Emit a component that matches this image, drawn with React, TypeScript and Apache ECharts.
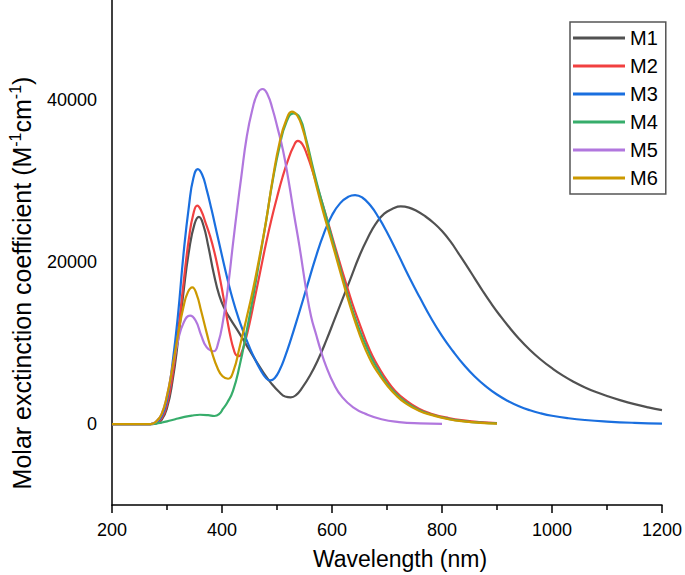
import React, { useEffect, useRef } from "react";
import * as echarts from "echarts";

const FONT = '"Liberation Sans", Arial, Helvetica, sans-serif';

const SERIES_NAMES = ["M1", "M2", "M3", "M4", "M5", "M6"];
const COLORS = ["#515151", "#F14040", "#1A6FDF", "#37AD6B", "#B177DE", "#CC9900"];

const X_TICKS = [200, 400, 600, 800, 1000, 1200];
const Y_TICK_LABELS = [0, 20000, 40000];

const M1_WL = [200, 270, 280, 290, 300, 310, 320, 330, 340, 350, 358, 366, 375, 385, 395, 405, 415, 430, 445, 460, 475, 490, 505, 515, 525, 535, 545, 560, 575, 590, 605, 620, 635, 650, 665, 680, 695, 710, 725, 740, 755, 770, 785, 800, 815, 830, 845, 860, 875, 890, 905, 920, 940, 960, 980, 1000, 1020, 1040, 1060, 1080, 1100, 1125, 1150, 1175, 1200];
const M1_VAL = [0, 0, 80, 500, 2000, 5300, 10300, 16300, 21400, 24700, 25600, 24600, 22000, 18600, 15900, 14200, 13000, 11400, 9700, 8000, 6400, 5000, 3900, 3400, 3300, 3600, 4400, 6000, 8000, 10400, 13000, 15600, 18200, 20800, 23000, 24800, 26000, 26600, 26900, 26750, 26300, 25650, 24850, 23850, 22600, 21100, 19550, 17950, 16350, 14850, 13450, 12150, 10550, 9150, 7950, 6900, 5980, 5200, 4530, 3960, 3470, 2930, 2460, 2060, 1720];

const M2_WL = [200, 270, 280, 290, 300, 310, 320, 330, 340, 348, 355, 362, 370, 378, 386, 394, 402, 410, 416, 421, 426, 431, 436, 442, 450, 460, 470, 480, 490, 500, 510, 520, 530, 538, 546, 555, 565, 577, 589, 601, 613, 625, 637, 649, 661, 673, 686, 700, 715, 734, 758, 782, 812, 843, 870, 900];
const M2_VAL = [0, 0, 120, 650, 2400, 6000, 11300, 17400, 23000, 26000, 27000, 26400, 24900, 23300, 21300, 18800, 15900, 12700, 10600, 9300, 8500, 8400, 8900, 10200, 12400, 15700, 19000, 22300, 25300, 28000, 30500, 32600, 34300, 35000, 34600, 33200, 31200, 28500, 25800, 23000, 20200, 17500, 14900, 12600, 10400, 8500, 6900, 5400, 4100, 2950, 1900, 1250, 750, 430, 250, 120];

const M3_WL = [200, 270, 280, 290, 300, 310, 320, 330, 340, 348, 356, 364, 372, 381, 390, 400, 410, 420, 430, 440, 450, 460, 470, 480, 488, 496, 505, 515, 525, 540, 555, 570, 585, 600, 615, 630, 642, 655, 670, 685, 700, 720, 740, 760, 780, 800, 820, 840, 860, 880, 900, 920, 940, 960, 980, 1000, 1030, 1060, 1100, 1150, 1200];
const M3_VAL = [0, 0, 200, 900, 3000, 7500, 13500, 21000, 27000, 30400, 31500, 30800, 29000, 26500, 23800, 20800, 17900, 15300, 13100, 11200, 9500, 8000, 6700, 5700, 5400, 5700, 6700, 8400, 10400, 13700, 17100, 20500, 23500, 25800, 27300, 28100, 28300, 28000, 27000, 25500, 23700, 21000, 18200, 15600, 13100, 10900, 9000, 7300, 5850, 4650, 3650, 2850, 2200, 1700, 1320, 1030, 720, 500, 310, 150, 50];

const M4_WL = [200, 270, 280, 290, 300, 315, 330, 345, 360, 375, 386, 395, 402, 410, 420, 432, 444, 456, 468, 480, 492, 505, 517, 530, 541, 553, 565, 577, 589, 601, 613, 625, 637, 649, 661, 673, 686, 700, 715, 734, 758, 782, 812, 843, 870, 900];
const M4_VAL = [0, 0, 60, 180, 330, 600, 850, 1050, 1150, 1100, 1000, 1250, 1900, 2700, 4100, 7200, 11200, 15500, 20200, 25000, 30000, 34400, 37300, 38400, 37900, 35200, 31800, 28600, 25700, 22700, 19700, 16800, 14100, 11800, 9800, 8000, 6500, 5000, 3850, 2700, 1750, 1150, 650, 340, 180, 80];

const M5_WL = [200, 270, 280, 290, 300, 310, 320, 330, 342, 352, 362, 372, 385, 393, 402, 411, 420, 428, 435, 445, 455, 465, 474, 483, 492, 501, 511, 521, 531, 541, 553, 562, 571, 580, 589, 603, 619, 640, 661, 690, 722, 760, 800];
const M5_VAL = [0, 0, 300, 1200, 3500, 7000, 10300, 12500, 13400, 12800, 11000, 9500, 9000, 10000, 12800, 17000, 22300, 26800, 30500, 35500, 38800, 40900, 41400, 40700, 38900, 36600, 33800, 30100, 25900, 21900, 16600, 13300, 11100, 9000, 7200, 5000, 3300, 2000, 1260, 600, 250, 80, 20];

const M6_WL = [200, 270, 280, 290, 300, 310, 320, 330, 338, 346, 354, 362, 372, 382, 392, 401, 411, 421, 432, 444, 456, 468, 480, 492, 505, 517, 527, 537, 547, 556, 565, 577, 589, 601, 613, 625, 637, 649, 661, 673, 686, 700, 715, 734, 758, 782, 812, 843, 870, 900];
const M6_VAL = [0, 0, 300, 1200, 3500, 7000, 11000, 14500, 16300, 16900, 16000, 14000, 11300, 8800, 6900, 5900, 5600, 6600, 9500, 12900, 16500, 20600, 25000, 30200, 34900, 37600, 38600, 38100, 36400, 34000, 31300, 28000, 25000, 22200, 19300, 16400, 13700, 11300, 9200, 7500, 6100, 4800, 3650, 2550, 1650, 1100, 600, 300, 150, 60];

const WLS = [M1_WL, M2_WL, M3_WL, M4_WL, M5_WL, M6_WL];
const VALS = [M1_VAL, M2_VAL, M3_VAL, M4_VAL, M5_VAL, M6_VAL];

export default function App() {
  const ref = useRef<HTMLDivElement>(null);

  useEffect(() => {
    if (!ref.current) return;
    const chart = echarts.init(ref.current, null, { renderer: "svg" });

    const series = SERIES_NAMES.map((name, i) => ({
      name,
      type: "line",
      data: WLS[i].map((x, j) => [x, VALS[i][j]]),
      showSymbol: false,
      symbol: "none",
      smooth: 0.5,
      lineStyle: { color: COLORS[i], width: 2.2 },
      itemStyle: { color: COLORS[i] },
      z: 2 + i,
    }));

    chart.setOption({
      animation: false,
      backgroundColor: "#ffffff",
      textStyle: { fontFamily: FONT },
      grid: { left: 112, right: 21, top: 0, bottom: 70, containLabel: false },
      xAxis: {
        type: "value",
        min: X_TICKS[0],
        max: X_TICKS[X_TICKS.length - 1],
        interval: 200,
        axisLine: { show: true, onZero: false, lineStyle: { color: "#000", width: 1.5 } },
        axisTick: { show: true, length: 8, lineStyle: { color: "#000", width: 1.5 } },
        minorTick: { show: true, splitNumber: 2, length: 5, lineStyle: { color: "#000", width: 1.5 } },
        splitLine: { show: false },
        minorSplitLine: { show: false },
        axisLabel: {
          fontSize: 18,
          color: "#000",
          margin: 16,
          fontFamily: FONT,
          formatter: (v: number) => String(v),
        },
      },
      yAxis: {
        type: "value",
        min: -10000,
        max: 52400,
        interval: 10000,
        axisLine: { show: true, onZero: false, lineStyle: { color: "#000", width: 1.5 } },
        axisTick: { show: false },
        splitLine: { show: false },
        axisLabel: {
          fontSize: 18,
          color: "#000",
          margin: 15,
          fontFamily: FONT,
          formatter: (v: number) => (Y_TICK_LABELS.indexOf(v) >= 0 ? String(v) : ""),
        },
      },
      legend: {
        show: true,
        data: SERIES_NAMES,
        orient: "vertical",
        left: 570,
        top: 22,
        icon: "rect",
        itemWidth: 52,
        itemHeight: 3,
        itemGap: 8,
        padding: [6, 8, 6, 3],
        borderColor: "#555",
        borderWidth: 1.5,
        borderRadius: 0,
        textStyle: { fontSize: 20, color: "#000", fontFamily: FONT, lineHeight: 20 },
      },
      graphic: [
        {
          type: "text",
          x: 400,
          y: 559,
          style: {
            text: "Wavelength (nm)",
            fontSize: 23,
            fontFamily: FONT,
            fill: "#000",
            align: "center",
            verticalAlign: "middle",
          },
        },
        {
          type: "text",
          x: 22,
          y: 283,
          rotation: Math.PI / 2,
          style: {
            text: "{a|Molar exctinction coefficient (M}{s|-1}{a|cm}{s|-1}{a|)}",
            fill: "#000",
            align: "center",
            verticalAlign: "middle",
            rich: {
              a: { fontSize: 25, lineHeight: 29, fontFamily: FONT, fill: "#000" },
              s: { fontSize: 16, lineHeight: 16, fontFamily: FONT, fill: "#000", verticalAlign: "top" },
            },
          },
        },
      ],
      series,
    });

    return () => chart.dispose();
  }, []);

  return (
    <div
      ref={ref}
      style={{ position: "fixed", left: 0, top: 0, width: 685, height: 575, background: "#fff" }}
    />
  );
}
